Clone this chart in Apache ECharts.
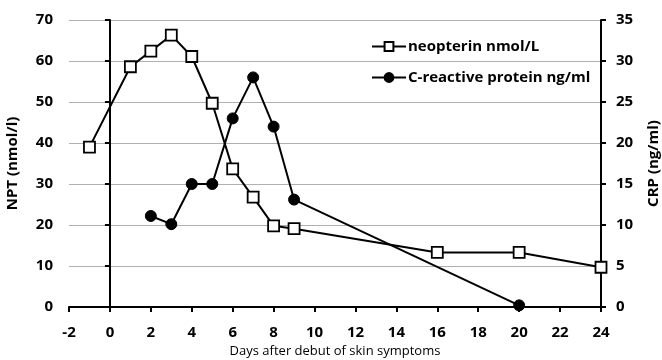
<!DOCTYPE html>
<html><head><meta charset="utf-8">
<script src="https://cdn.jsdelivr.net/npm/echarts@6/dist/echarts.min.js"></script>
<style>html,body{margin:0;padding:0;background:#fff}#c{width:662px;height:360px}</style>
</head><body><div id="c"></div>
<script>
const npName = 'neopterin nmol/L';
const crpName = 'C-reactive protein ng/ml';
const npDays = [-1, 1, 2, 3, 4, 5, 6, 7, 8, 9, 16, 20, 24];
const npValues = [39, 58.6, 62.4, 66.3, 61.1, 49.7, 33.7, 26.8, 19.8, 19.1, 13.3, 13.3, 9.7];
const crpDays = [2, 3, 4, 5, 6, 7, 8, 9, 20];
const crpValues = [11.1, 10.1, 15, 15, 23, 28, 22, 13.1, 0.2];
const xTitle = 'Days after debut of skin symptoms';
const yLeftTitle = 'NPT (nmol/l)';
const yRightTitle = 'CRP (ng/ml)';

const font = '"Open Sans", "Noto Sans", sans-serif';
const chart = echarts.init(document.getElementById('c'));
const axisLbl = {color: '#000', fontWeight: 'bold', fontSize: 15, fontFamily: font};
chart.setOption({
  animation: false,
  grid: {left: 69, right: 61, top: 20, bottom: 53, containLabel: false, outerBoundsMode: 'none'},
  legend: {
    orient: 'vertical', left: 366, top: 34, itemGap: 16, itemWidth: 34, itemHeight: 11,
    textStyle: {color: '#000', fontWeight: 'bold', fontSize: 15, fontFamily: font, padding: [0, 0, 0, -3]},
    data: [npName, crpName]
  },
  xAxis: {
    type: 'value', min: -2, max: 24, interval: 2,
    name: xTitle, nameLocation: 'middle', nameGap: 38,
    nameTextStyle: {color: '#000', fontSize: 13, fontFamily: font},
    axisLine: {show: true, onZero: false, lineStyle: {color: '#000', width: 2}},
    axisTick: {show: true, length: 5, lineStyle: {color: '#000', width: 2}},
    axisLabel: Object.assign({margin: 18}, axisLbl),
    splitLine: {show: false}
  },
  yAxis: [{
    type: 'value', min: 0, max: 70, interval: 10,
    name: yLeftTitle, nameLocation: 'middle', nameGap: 49, nameRotate: 90,
    nameTextStyle: {color: '#000', fontWeight: 'bold', fontSize: 15, fontFamily: font},
    axisLine: {show: true, lineStyle: {color: '#000', width: 2}},
    axisTick: {show: true, length: 5, lineStyle: {color: '#000', width: 2}},
    axisLabel: Object.assign({margin: 16}, axisLbl),
    splitLine: {show: true, lineStyle: {color: '#b0b0b0', width: 1}}
  }, {
    type: 'value', min: 0, max: 35, interval: 5, position: 'right',
    name: yRightTitle, nameLocation: 'middle', nameGap: 45, nameRotate: 90,
    nameTextStyle: {color: '#000', fontWeight: 'bold', fontSize: 15, fontFamily: font},
    axisLine: {show: true, lineStyle: {color: '#000', width: 2}},
    axisTick: {show: true, length: 5, lineStyle: {color: '#000', width: 2}},
    axisLabel: Object.assign({margin: 15}, axisLbl),
    splitLine: {show: false}
  }],
  series: [{
    name: npName, type: 'line', yAxisIndex: 0,
    data: npDays.map((d, i) => [d, npValues[i]]),
    symbol: 'rect', symbolSize: 11,
    lineStyle: {color: '#000', width: 2},
    itemStyle: {color: '#fff', borderColor: '#000', borderWidth: 1.8},
    z: 3
  }, {
    name: crpName, type: 'line', yAxisIndex: 1,
    data: crpDays.map((d, i) => [d, crpValues[i]]),
    symbol: 'circle', symbolSize: 11,
    lineStyle: {color: '#000', width: 2},
    itemStyle: {color: '#000', borderColor: '#000', borderWidth: 1},
    z: 2
  }]
});
</script></body></html>
